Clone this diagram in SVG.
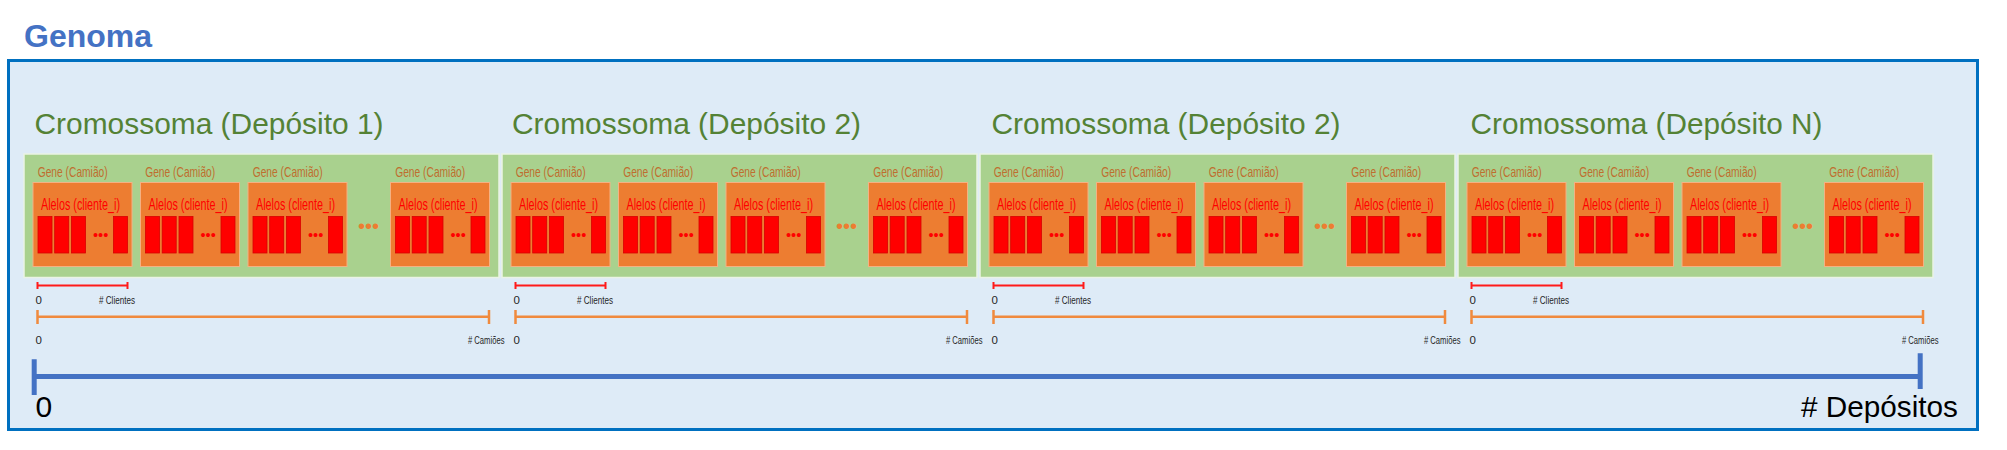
<svg xmlns="http://www.w3.org/2000/svg" width="2007" height="450" viewBox="0 0 2007 450">
<style>
text{font-family:"Liberation Sans",Arial,sans-serif}
.genoma{font-size:32px;font-weight:bold;fill:#4472C4}
.title{font-size:30px;fill:#548235}
.block{fill:#A9D18E;stroke:#EAF3E4;stroke-width:1.5}
.gene{fill:#ED7D31;stroke:#F4B183;stroke-width:1}
.gl{font-size:15px;fill:#BF6E2E}
.al{font-size:16px;fill:#FF0000}
.bar{fill:#FF0000;stroke:#D80000;stroke-width:0.8}
.rd{font-size:14.5px;fill:#FF0000}
.od{font-size:20px;fill:#ED7D31}
.sm{font-size:11.5px;fill:#262626}
.red{stroke:#FF1A1A;stroke-width:2;fill:none}
.org{stroke:#F08A3E;stroke-width:2.5;fill:none}
.axis{stroke:#4472C4;stroke-width:5;fill:none}
.big{font-size:30px;fill:#000}
</style>
<text class="genoma" x="24" y="46.7">Genoma</text>
<g id="genoma">
<rect x="8.5" y="60.5" width="1969" height="369" fill="#DEEBF7" stroke="#0070C0" stroke-width="3"/>
</g>

<g id="cromossoma1" transform="translate(24,0)">
<text class="title" x="10.5" y="134" textLength="349" lengthAdjust="spacingAndGlyphs">Cromossoma (Depósito 1)</text>
<rect class="block" x="0" y="154" width="475" height="123.5"/>
<g id="c1g1" transform="translate(9,0)"><rect class="gene" x="0" y="182.5" width="99" height="84"/><text class="gl" x="4.7" y="177" textLength="70" lengthAdjust="spacingAndGlyphs">Gene (Camião)</text><text class="al" x="8" y="209.5" textLength="79" lengthAdjust="spacingAndGlyphs">Alelos (cliente_i)</text><rect class="bar" x="5" y="216.5" width="14" height="36.5"/><rect class="bar" x="21.7" y="216.5" width="14" height="36.5"/><rect class="bar" x="38.5" y="216.5" width="14" height="36.5"/><rect class="bar" x="80.5" y="216.5" width="14" height="36.5"/><text class="rd" x="60" y="240">•••</text></g>
<g id="c1g2" transform="translate(116.5,0)"><rect class="gene" x="0" y="182.5" width="99" height="84"/><text class="gl" x="4.7" y="177" textLength="70" lengthAdjust="spacingAndGlyphs">Gene (Camião)</text><text class="al" x="8" y="209.5" textLength="79" lengthAdjust="spacingAndGlyphs">Alelos (cliente_i)</text><rect class="bar" x="5" y="216.5" width="14" height="36.5"/><rect class="bar" x="21.7" y="216.5" width="14" height="36.5"/><rect class="bar" x="38.5" y="216.5" width="14" height="36.5"/><rect class="bar" x="80.5" y="216.5" width="14" height="36.5"/><text class="rd" x="60" y="240">•••</text></g>
<g id="c1g3" transform="translate(224,0)"><rect class="gene" x="0" y="182.5" width="99" height="84"/><text class="gl" x="4.7" y="177" textLength="70" lengthAdjust="spacingAndGlyphs">Gene (Camião)</text><text class="al" x="8" y="209.5" textLength="79" lengthAdjust="spacingAndGlyphs">Alelos (cliente_i)</text><rect class="bar" x="5" y="216.5" width="14" height="36.5"/><rect class="bar" x="21.7" y="216.5" width="14" height="36.5"/><rect class="bar" x="38.5" y="216.5" width="14" height="36.5"/><rect class="bar" x="80.5" y="216.5" width="14" height="36.5"/><text class="rd" x="60" y="240">•••</text></g>
<text class="od" x="334" y="233">•••</text>
<g id="c1g4" transform="translate(366.5,0)"><rect class="gene" x="0" y="182.5" width="99" height="84"/><text class="gl" x="4.7" y="177" textLength="70" lengthAdjust="spacingAndGlyphs">Gene (Camião)</text><text class="al" x="8" y="209.5" textLength="79" lengthAdjust="spacingAndGlyphs">Alelos (cliente_i)</text><rect class="bar" x="5" y="216.5" width="14" height="36.5"/><rect class="bar" x="21.7" y="216.5" width="14" height="36.5"/><rect class="bar" x="38.5" y="216.5" width="14" height="36.5"/><rect class="bar" x="80.5" y="216.5" width="14" height="36.5"/><text class="rd" x="60" y="240">•••</text></g>
</g>

<g id="cromossoma2" transform="translate(502,0)">
<text class="title" x="10" y="134" textLength="349" lengthAdjust="spacingAndGlyphs">Cromossoma (Depósito 2)</text>
<rect class="block" x="0" y="154" width="475" height="123.5"/>
<g id="c2g1" transform="translate(9,0)"><rect class="gene" x="0" y="182.5" width="99" height="84"/><text class="gl" x="4.7" y="177" textLength="70" lengthAdjust="spacingAndGlyphs">Gene (Camião)</text><text class="al" x="8" y="209.5" textLength="79" lengthAdjust="spacingAndGlyphs">Alelos (cliente_i)</text><rect class="bar" x="5" y="216.5" width="14" height="36.5"/><rect class="bar" x="21.7" y="216.5" width="14" height="36.5"/><rect class="bar" x="38.5" y="216.5" width="14" height="36.5"/><rect class="bar" x="80.5" y="216.5" width="14" height="36.5"/><text class="rd" x="60" y="240">•••</text></g>
<g id="c2g2" transform="translate(116.5,0)"><rect class="gene" x="0" y="182.5" width="99" height="84"/><text class="gl" x="4.7" y="177" textLength="70" lengthAdjust="spacingAndGlyphs">Gene (Camião)</text><text class="al" x="8" y="209.5" textLength="79" lengthAdjust="spacingAndGlyphs">Alelos (cliente_i)</text><rect class="bar" x="5" y="216.5" width="14" height="36.5"/><rect class="bar" x="21.7" y="216.5" width="14" height="36.5"/><rect class="bar" x="38.5" y="216.5" width="14" height="36.5"/><rect class="bar" x="80.5" y="216.5" width="14" height="36.5"/><text class="rd" x="60" y="240">•••</text></g>
<g id="c2g3" transform="translate(224,0)"><rect class="gene" x="0" y="182.5" width="99" height="84"/><text class="gl" x="4.7" y="177" textLength="70" lengthAdjust="spacingAndGlyphs">Gene (Camião)</text><text class="al" x="8" y="209.5" textLength="79" lengthAdjust="spacingAndGlyphs">Alelos (cliente_i)</text><rect class="bar" x="5" y="216.5" width="14" height="36.5"/><rect class="bar" x="21.7" y="216.5" width="14" height="36.5"/><rect class="bar" x="38.5" y="216.5" width="14" height="36.5"/><rect class="bar" x="80.5" y="216.5" width="14" height="36.5"/><text class="rd" x="60" y="240">•••</text></g>
<text class="od" x="334" y="233">•••</text>
<g id="c2g4" transform="translate(366.5,0)"><rect class="gene" x="0" y="182.5" width="99" height="84"/><text class="gl" x="4.7" y="177" textLength="70" lengthAdjust="spacingAndGlyphs">Gene (Camião)</text><text class="al" x="8" y="209.5" textLength="79" lengthAdjust="spacingAndGlyphs">Alelos (cliente_i)</text><rect class="bar" x="5" y="216.5" width="14" height="36.5"/><rect class="bar" x="21.7" y="216.5" width="14" height="36.5"/><rect class="bar" x="38.5" y="216.5" width="14" height="36.5"/><rect class="bar" x="80.5" y="216.5" width="14" height="36.5"/><text class="rd" x="60" y="240">•••</text></g>
</g>

<g id="cromossoma3" transform="translate(980,0)">
<text class="title" x="11.5" y="134" textLength="349" lengthAdjust="spacingAndGlyphs">Cromossoma (Depósito 2)</text>
<rect class="block" x="0" y="154" width="475" height="123.5"/>
<g id="c3g1" transform="translate(9,0)"><rect class="gene" x="0" y="182.5" width="99" height="84"/><text class="gl" x="4.7" y="177" textLength="70" lengthAdjust="spacingAndGlyphs">Gene (Camião)</text><text class="al" x="8" y="209.5" textLength="79" lengthAdjust="spacingAndGlyphs">Alelos (cliente_i)</text><rect class="bar" x="5" y="216.5" width="14" height="36.5"/><rect class="bar" x="21.7" y="216.5" width="14" height="36.5"/><rect class="bar" x="38.5" y="216.5" width="14" height="36.5"/><rect class="bar" x="80.5" y="216.5" width="14" height="36.5"/><text class="rd" x="60" y="240">•••</text></g>
<g id="c3g2" transform="translate(116.5,0)"><rect class="gene" x="0" y="182.5" width="99" height="84"/><text class="gl" x="4.7" y="177" textLength="70" lengthAdjust="spacingAndGlyphs">Gene (Camião)</text><text class="al" x="8" y="209.5" textLength="79" lengthAdjust="spacingAndGlyphs">Alelos (cliente_i)</text><rect class="bar" x="5" y="216.5" width="14" height="36.5"/><rect class="bar" x="21.7" y="216.5" width="14" height="36.5"/><rect class="bar" x="38.5" y="216.5" width="14" height="36.5"/><rect class="bar" x="80.5" y="216.5" width="14" height="36.5"/><text class="rd" x="60" y="240">•••</text></g>
<g id="c3g3" transform="translate(224,0)"><rect class="gene" x="0" y="182.5" width="99" height="84"/><text class="gl" x="4.7" y="177" textLength="70" lengthAdjust="spacingAndGlyphs">Gene (Camião)</text><text class="al" x="8" y="209.5" textLength="79" lengthAdjust="spacingAndGlyphs">Alelos (cliente_i)</text><rect class="bar" x="5" y="216.5" width="14" height="36.5"/><rect class="bar" x="21.7" y="216.5" width="14" height="36.5"/><rect class="bar" x="38.5" y="216.5" width="14" height="36.5"/><rect class="bar" x="80.5" y="216.5" width="14" height="36.5"/><text class="rd" x="60" y="240">•••</text></g>
<text class="od" x="334" y="233">•••</text>
<g id="c3g4" transform="translate(366.5,0)"><rect class="gene" x="0" y="182.5" width="99" height="84"/><text class="gl" x="4.7" y="177" textLength="70" lengthAdjust="spacingAndGlyphs">Gene (Camião)</text><text class="al" x="8" y="209.5" textLength="79" lengthAdjust="spacingAndGlyphs">Alelos (cliente_i)</text><rect class="bar" x="5" y="216.5" width="14" height="36.5"/><rect class="bar" x="21.7" y="216.5" width="14" height="36.5"/><rect class="bar" x="38.5" y="216.5" width="14" height="36.5"/><rect class="bar" x="80.5" y="216.5" width="14" height="36.5"/><text class="rd" x="60" y="240">•••</text></g>
</g>

<g id="cromossoma4" transform="translate(1458,0)">
<text class="title" x="12.5" y="134" textLength="352" lengthAdjust="spacingAndGlyphs">Cromossoma (Depósito N)</text>
<rect class="block" x="0" y="154" width="475" height="123.5"/>
<g id="c4g1" transform="translate(9,0)"><rect class="gene" x="0" y="182.5" width="99" height="84"/><text class="gl" x="4.7" y="177" textLength="70" lengthAdjust="spacingAndGlyphs">Gene (Camião)</text><text class="al" x="8" y="209.5" textLength="79" lengthAdjust="spacingAndGlyphs">Alelos (cliente_i)</text><rect class="bar" x="5" y="216.5" width="14" height="36.5"/><rect class="bar" x="21.7" y="216.5" width="14" height="36.5"/><rect class="bar" x="38.5" y="216.5" width="14" height="36.5"/><rect class="bar" x="80.5" y="216.5" width="14" height="36.5"/><text class="rd" x="60" y="240">•••</text></g>
<g id="c4g2" transform="translate(116.5,0)"><rect class="gene" x="0" y="182.5" width="99" height="84"/><text class="gl" x="4.7" y="177" textLength="70" lengthAdjust="spacingAndGlyphs">Gene (Camião)</text><text class="al" x="8" y="209.5" textLength="79" lengthAdjust="spacingAndGlyphs">Alelos (cliente_i)</text><rect class="bar" x="5" y="216.5" width="14" height="36.5"/><rect class="bar" x="21.7" y="216.5" width="14" height="36.5"/><rect class="bar" x="38.5" y="216.5" width="14" height="36.5"/><rect class="bar" x="80.5" y="216.5" width="14" height="36.5"/><text class="rd" x="60" y="240">•••</text></g>
<g id="c4g3" transform="translate(224,0)"><rect class="gene" x="0" y="182.5" width="99" height="84"/><text class="gl" x="4.7" y="177" textLength="70" lengthAdjust="spacingAndGlyphs">Gene (Camião)</text><text class="al" x="8" y="209.5" textLength="79" lengthAdjust="spacingAndGlyphs">Alelos (cliente_i)</text><rect class="bar" x="5" y="216.5" width="14" height="36.5"/><rect class="bar" x="21.7" y="216.5" width="14" height="36.5"/><rect class="bar" x="38.5" y="216.5" width="14" height="36.5"/><rect class="bar" x="80.5" y="216.5" width="14" height="36.5"/><text class="rd" x="60" y="240">•••</text></g>
<text class="od" x="334" y="233">•••</text>
<g id="c4g4" transform="translate(366.5,0)"><rect class="gene" x="0" y="182.5" width="99" height="84"/><text class="gl" x="4.7" y="177" textLength="70" lengthAdjust="spacingAndGlyphs">Gene (Camião)</text><text class="al" x="8" y="209.5" textLength="79" lengthAdjust="spacingAndGlyphs">Alelos (cliente_i)</text><rect class="bar" x="5" y="216.5" width="14" height="36.5"/><rect class="bar" x="21.7" y="216.5" width="14" height="36.5"/><rect class="bar" x="38.5" y="216.5" width="14" height="36.5"/><rect class="bar" x="80.5" y="216.5" width="14" height="36.5"/><text class="rd" x="60" y="240">•••</text></g>
</g>

<g id="connectors">
<g id="escala1" transform="translate(24,0)">
<path class="red" d="M13.5 285.5H103.5M13.5 282V289M103.5 282V289"/>
<text class="sm" x="11.5" y="304">0</text>
<text class="sm" transform="translate(75,304) scale(0.704,1)"># Clientes</text>
<path class="org" d="M13.5 316.7H465M13.5 310V324M465 310V324"/>
<text class="sm" x="11.5" y="343.5">0</text>
<text class="sm" transform="translate(444,343.5) scale(0.664,1)"># Camiões</text>
</g>
<g id="escala2" transform="translate(502,0)">
<path class="red" d="M13.5 285.5H103.5M13.5 282V289M103.5 282V289"/>
<text class="sm" x="11.5" y="304">0</text>
<text class="sm" transform="translate(75,304) scale(0.704,1)"># Clientes</text>
<path class="org" d="M13.5 316.7H465M13.5 310V324M465 310V324"/>
<text class="sm" x="11.5" y="343.5">0</text>
<text class="sm" transform="translate(444,343.5) scale(0.664,1)"># Camiões</text>
</g>
<g id="escala3" transform="translate(980,0)">
<path class="red" d="M13.5 285.5H103.5M13.5 282V289M103.5 282V289"/>
<text class="sm" x="11.5" y="304">0</text>
<text class="sm" transform="translate(75,304) scale(0.704,1)"># Clientes</text>
<path class="org" d="M13.5 316.7H465M13.5 310V324M465 310V324"/>
<text class="sm" x="11.5" y="343.5">0</text>
<text class="sm" transform="translate(444,343.5) scale(0.664,1)"># Camiões</text>
</g>
<g id="escala4" transform="translate(1458,0)">
<path class="red" d="M13.5 285.5H103.5M13.5 282V289M103.5 282V289"/>
<text class="sm" x="11.5" y="304">0</text>
<text class="sm" transform="translate(75,304) scale(0.704,1)"># Clientes</text>
<path class="org" d="M13.5 316.7H465M13.5 310V324M465 310V324"/>
<text class="sm" x="11.5" y="343.5">0</text>
<text class="sm" transform="translate(444,343.5) scale(0.664,1)"># Camiões</text>
</g>
<g id="eixo-depositos">
<path class="axis" d="M34.2 376.5H1920.2M34.2 359.3V395M1920.2 353.3V389"/>
<text class="big" x="35.5" y="416.7">0</text>
<text class="big" x="1801" y="417.3" textLength="157" lengthAdjust="spacingAndGlyphs"># Depósitos</text>
</g>
</g>
</svg>
